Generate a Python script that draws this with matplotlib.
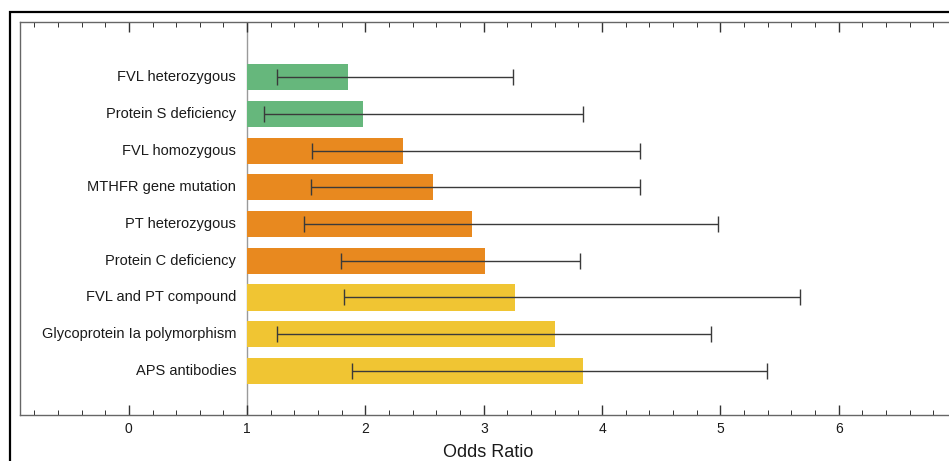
import matplotlib.pyplot as plt
from matplotlib.patches import Rectangle
from matplotlib.ticker import MultipleLocator
from matplotlib import transforms

plt.rcParams['font.family'] = ['Liberation Sans', 'DejaVu Sans']

factors = ['FVL heterozygous', 'Protein S deficiency', 'FVL homozygous',
           'MTHFR gene mutation', 'PT heterozygous', 'Protein C deficiency',
           'FVL and PT compound', 'Glycoprotein Ia polymorphism', 'APS antibodies']
odds = [1.85, 1.98, 2.32, 2.57, 2.90, 3.01, 3.26, 3.60, 3.84]
ci_low = [1.25, 1.14, 1.55, 1.54, 1.48, 1.79, 1.82, 1.25, 1.885]
ci_high = [3.25, 3.84, 4.32, 4.32, 4.98, 3.81, 5.67, 4.92, 5.39]
groups = ['green', 'green', 'orange', 'orange', 'orange', 'orange',
          'yellow', 'yellow', 'yellow']
palette = {'green': '#66b77c', 'orange': '#e8891f', 'yellow': '#f0c533'}
xticks = [0, 1, 2, 3, 4, 5, 6]

fig = plt.figure(figsize=(9.49, 4.61), dpi=100)

# outer frame, cut by the right and bottom edges like the original screenshot
fig.patches.append(Rectangle((10 / 949, -0.1), 1.2, 1.1 - 12 / 461,
                             transform=fig.transFigure, fill=False,
                             edgecolor='black', linewidth=1.6))

ax = fig.add_axes([20 / 949, 46 / 461, 0.9874, 393 / 461])

base = 1.0
ypos = list(range(len(factors)))
widths = [v - base for v in odds]
ax.barh(ypos, widths, left=base, height=0.71,
        color=[palette[g] for g in groups], zorder=2)
xerr = [[v - lo for v, lo in zip(odds, ci_low)],
        [hi - v for v, hi in zip(odds, ci_high)]]
ax.errorbar(odds, ypos, xerr=xerr, fmt='none', ecolor='#3a3a3a',
            elinewidth=1.0, capsize=5.5, capthick=1.0, zorder=3)

ax.axvline(base, color='#9a9a9a', linewidth=1.0, zorder=1)

# category labels sit just left of the reference line at OR = 1
off = transforms.offset_copy(ax.transData, fig=fig, x=-11, y=0, units='dots')
for y, name in zip(ypos, factors):
    ax.text(base, y, name, transform=off, ha='right', va='center',
            fontsize=10.5, color='#1a1a1a')

ax.set_xlim(-0.92, 7.0)
ax.set_ylim(len(factors) - 1 + 1.2, -1.5)
ax.set_yticks([])
ax.set_xticks(xticks)
ax.xaxis.set_minor_locator(MultipleLocator(0.2))
ax.tick_params(axis='x', which='both', direction='in', top=True,
               bottom=True, colors='#333333', labelcolor='#1a1a1a')
ax.tick_params(axis='x', which='major', length=7, width=1.0,
               labelsize=10, pad=5)
ax.tick_params(axis='x', which='minor', length=3.5, width=0.7)
for s in ['top', 'bottom', 'left']:
    ax.spines[s].set_color('#666666')
    ax.spines[s].set_linewidth(1.0)
ax.spines['right'].set_visible(False)

ax.set_xlabel('Odds Ratio', fontsize=13, color='#1a1a1a', labelpad=6)

fig.savefig('out.png', dpi=100)
